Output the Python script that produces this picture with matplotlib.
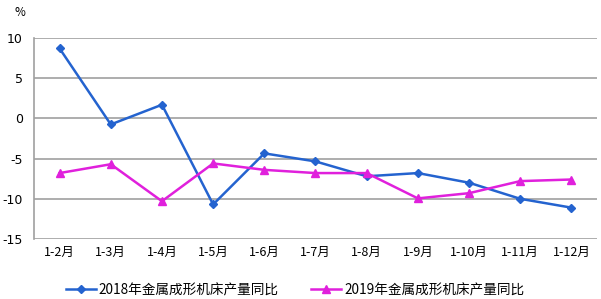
import matplotlib
matplotlib.use("Agg")
import matplotlib.pyplot as plt

plt.rcParams['font.family'] = ['Noto Sans CJK SC', 'DejaVu Sans']

categories = ["1-2月", "1-3月", "1-4月", "1-5月", "1-6月", "1-7月", "1-8月", "1-9月", "1-10月", "1-11月", "1-12月"]
s2018 = [8.7, -0.75, 1.7, -10.7, -4.35, -5.35, -7.2, -6.8, -8.0, -10.0, -11.1]
s2019 = [-6.8, -5.7, -10.3, -5.6, -6.4, -6.8, -6.8, -9.95, -9.3, -7.8, -7.6]
label2018 = "2018年金属成形机床产量同比"
label2019 = "2019年金属成形机床产量同比"
yticks = [10, 5, 0, -5, -10, -15]

c2018 = "#2463CF"
c2019 = "#E020DC"

fig = plt.figure(figsize=(6.01, 2.99), dpi=100)
ax = fig.add_axes([34/601, 60/299, 563/601, 201/299])

x = list(range(len(categories)))
ax.plot(x, s2018, color=c2018, lw=1.8, marker="D", ms=4.5, label=label2018, zorder=3)
ax.plot(x, s2019, color=c2019, lw=1.8, marker="^", ms=6, label=label2019, zorder=3)

ax.set_xlim(-0.5, len(categories) - 0.5)
ax.set_ylim(-15, 10)
ax.set_yticks(yticks)
ax.set_yticklabels([str(v) for v in yticks], fontsize=9, family=['DejaVu Sans'])
ax.set_xticks(x)
ax.set_xticklabels(categories, fontsize=9)
ax.tick_params(length=0, pad=5)
ax.tick_params(axis='y', pad=8)
ax.grid(axis='y', color="#A0A0A0", lw=1.2)
ax.set_axisbelow(True)
for s in ["top", "right", "bottom"]:
    ax.spines[s].set_visible(False)
ax.spines["left"].set_color("#A0A0A0")
ax.spines["left"].set_linewidth(1.2)

fig.text(20/601, 1 - 13/299, "%", fontsize=8.5, ha="center", va="center")

fig.legend(*ax.get_legend_handles_labels(), loc="center left",
           bbox_to_anchor=(66/601, 1 - 290/299), ncol=2, frameon=False,
           fontsize=9.8, handlelength=2.2, handletextpad=0.2, columnspacing=2.4,
           borderaxespad=0, borderpad=0)

fig.savefig("out.png", dpi=100)
